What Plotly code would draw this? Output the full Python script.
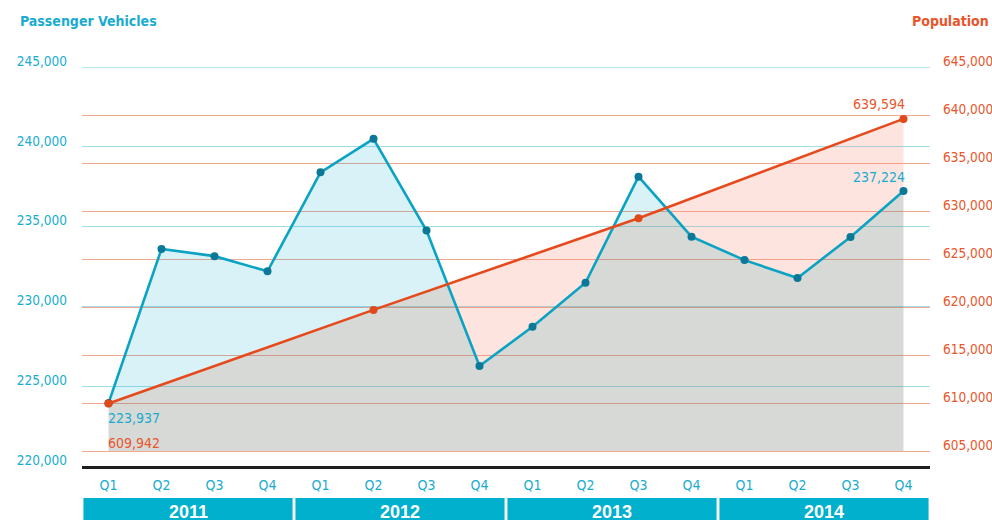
import plotly.graph_objects as go

# ---- data -------------------------------------------------------------
years = ["2011", "2012", "2013", "2014"]
quarter_names = ["Q1", "Q2", "Q3", "Q4"]
vehicles = [223937, 233600, 233150, 232200,
            238400, 240500, 234750, 226270,
            228730, 231480, 238130, 234370,
            232900, 231780, 234350, 237224]
population_idx = [0, 5, 10, 15]
population = [609942, 619700, 629250, 639594]
left_ticks = [220000, 225000, 230000, 235000, 240000, 245000]
right_ticks = [605000, 610000, 615000, 620000, 625000, 630000, 635000, 640000, 645000]

# ---- styling ----------------------------------------------------------
NARROW = "DejaVu Sans Condensed, Liberation Sans Narrow, Arial Narrow, sans-serif"
CYAN_TXT = "#19acd0"
RED_TXT = "#e9552b"
BLUE_LINE = "#0ba3c3"
BLUE_MARK = "#0b7898"
RED_LINE = "#e64a1c"
BAR = "#00b0cc"
CYAN_GRID = "#a0dfea"
RED_GRID = "#f4a792"
FS = 14
TICK_FS = 13.5

L_RANGE = [220000, 245000]
R_RANGE = [603437.5, 645000]

n = len(vehicles)
xq = list(range(n))


def pop_at(x):
    """Population line linearly interpolated at quarter position x."""
    for k in range(len(population_idx) - 1):
        a, b = population_idx[k], population_idx[k + 1]
        if a <= x <= b:
            t = (x - a) / (b - a)
            return population[k] + t * (population[k + 1] - population[k])
    return population[-1]


def to_left(v):
    """Express a right-axis value in left-axis units (same pixel height)."""
    return L_RANGE[0] + (v - R_RANGE[0]) * (L_RANGE[1] - L_RANGE[0]) / (R_RANGE[1] - R_RANGE[0])


# sample both series on the quarters plus every crossing point
xs, bl, rd = [], [], []
for i in range(n):
    b0, r0 = vehicles[i], to_left(pop_at(i))
    xs.append(i); bl.append(b0); rd.append(r0)
    if i < n - 1:
        b1, r1 = vehicles[i + 1], to_left(pop_at(i + 1))
        d0, d1 = b0 - r0, b1 - r1
        if d0 * d1 < 0:
            t = d0 / (d0 - d1)
            yc = b0 + t * (b1 - b0)
            xs.append(i + t); bl.append(yc); rd.append(yc)
lo = [min(a, b) for a, b in zip(bl, rd)]
base = [to_left(right_ticks[0])] * len(xs)

fig = go.Figure()
common = dict(mode="lines", line=dict(width=0), hoverinfo="skip", showlegend=False)
fig.add_trace(go.Scatter(x=xs, y=base, **common))
fig.add_trace(go.Scatter(x=xs, y=lo, fill="tonexty", fillcolor="rgba(120,128,118,0.30)", **common))
fig.add_trace(go.Scatter(x=xs, y=bl, fill="tonexty", fillcolor="rgba(0,170,200,0.15)", **common))
fig.add_trace(go.Scatter(x=xs, y=lo, **common))
fig.add_trace(go.Scatter(x=xs, y=rd, fill="tonexty", fillcolor="rgba(245,120,95,0.20)", **common))

# population line (right axis)
fig.add_trace(go.Scatter(
    x=population_idx, y=population, yaxis="y2", mode="lines+markers",
    line=dict(color=RED_LINE, width=2.6),
    marker=dict(color="#e04a1a", size=8),
    hoverinfo="skip", showlegend=False))

# passenger vehicles line (left axis)
mark_colors = ["#1b3a32"] + [BLUE_MARK] * (n - 1)
fig.add_trace(go.Scatter(
    x=xq, y=vehicles, mode="lines+markers",
    line=dict(color=BLUE_LINE, width=2.6),
    marker=dict(color=mark_colors, size=8),
    hoverinfo="skip", showlegend=False))

# ---- year bars under the quarter labels --------------------------------
gap = 0.027
shapes = [
    # top grid line sits on the plot edge, which the axis grid skips
    dict(type="line", xref="paper", yref="y", x0=0, x1=1,
         y0=left_ticks[-1], y1=left_ticks[-1], line=dict(color=CYAN_GRID, width=1.3),
         layer="below"),
]
annotations = []
for k, yr in enumerate(years):
    x0 = 4 * k - 0.5 + gap
    x1 = 4 * k + 3.5 - gap
    shapes.append(dict(type="rect", xref="x", yref="paper", x0=x0, x1=x1,
                       y0=-0.1353, y1=-0.0802, fillcolor=BAR, line=dict(width=0),
                       layer="above"))
    annotations.append(dict(text=yr, xref="x", yref="paper", x=4 * k + 1.5, y=-0.1165,
                            xanchor="center", yanchor="middle", showarrow=False,
                            font=dict(family="Liberation Sans, Arial, sans-serif",
                                      size=18, color="white", weight="bold")))

# axis titles
annotations.append(dict(text="<b>Passenger Vehicles</b>", xref="paper", yref="paper",
                        x=-0.0755, y=1.115, xanchor="left", yanchor="middle",
                        showarrow=False, font=dict(family=NARROW, size=14, color=CYAN_TXT)))
annotations.append(dict(text="<b>Population</b>", xref="paper", yref="paper",
                        x=1.072, y=1.115, xanchor="right", yanchor="middle",
                        showarrow=False, font=dict(family=NARROW, size=14, color=RED_TXT)))

# end-point value labels
lab_font = dict(family=NARROW, size=FS)
annotations += [
    dict(text=f"{vehicles[0]:,}", x=0, y=vehicles[0], xref="x", yref="y",
         xanchor="left", yanchor="middle", xshift=-3, yshift=-15, showarrow=False,
         font=dict(lab_font, color=CYAN_TXT)),
    dict(text=f"{population[0]:,}", x=population_idx[0], y=population[0], xref="x", yref="y2",
         xanchor="left", yanchor="middle", xshift=-3, yshift=-39, showarrow=False,
         font=dict(lab_font, color=RED_TXT)),
    dict(text=f"{vehicles[-1]:,}", x=n - 1, y=vehicles[-1], xref="x", yref="y",
         xanchor="right", yanchor="middle", xshift=3, yshift=14, showarrow=False,
         font=dict(lab_font, color=CYAN_TXT)),
    dict(text=f"{population[-1]:,}", x=population_idx[-1], y=population[-1], xref="x", yref="y2",
         xanchor="right", yanchor="middle", xshift=3, yshift=15, showarrow=False,
         font=dict(lab_font, color=RED_TXT)),
]

fig.update_layout(
    width=992, height=525, autosize=False,
    margin=dict(l=82, r=62, t=67, b=59),
    paper_bgcolor="white", plot_bgcolor="white",
    showlegend=False,
    xaxis=dict(range=[-0.5, 15.5], tickmode="array", tickvals=xq,
               ticktext=[quarter_names[i % 4] for i in xq],
               tickfont=dict(family=NARROW, size=FS, color=CYAN_TXT),
               showgrid=False, zeroline=False, ticks="", automargin=False,
               showline=True, linecolor="#1e1e1e", linewidth=3,
               ticklabelstandoff=4, fixedrange=True),
    yaxis=dict(range=L_RANGE, tickmode="array", tickvals=left_ticks,
               ticktext=[f"{v:,}" for v in left_ticks],
               tickfont=dict(family=NARROW, size=TICK_FS, color=CYAN_TXT),
               showgrid=True, gridcolor=CYAN_GRID, gridwidth=1.3, automargin=False,
               zeroline=False, ticks="", ticklabelshift=-6, ticklabelstandoff=14,
               fixedrange=True),
    yaxis2=dict(range=R_RANGE, overlaying="y", side="right", tickmode="array",
                tickvals=right_ticks, ticktext=[f"{v:,}" for v in right_ticks],
                tickfont=dict(family=NARROW, size=TICK_FS, color=RED_TXT),
                showgrid=True, gridcolor=RED_GRID, gridwidth=1.3, automargin=False,
                zeroline=False, ticks="", ticklabelshift=-6, ticklabelstandoff=12,
                fixedrange=True),
    shapes=shapes,
    annotations=annotations,
)

fig.write_html("out.html")
